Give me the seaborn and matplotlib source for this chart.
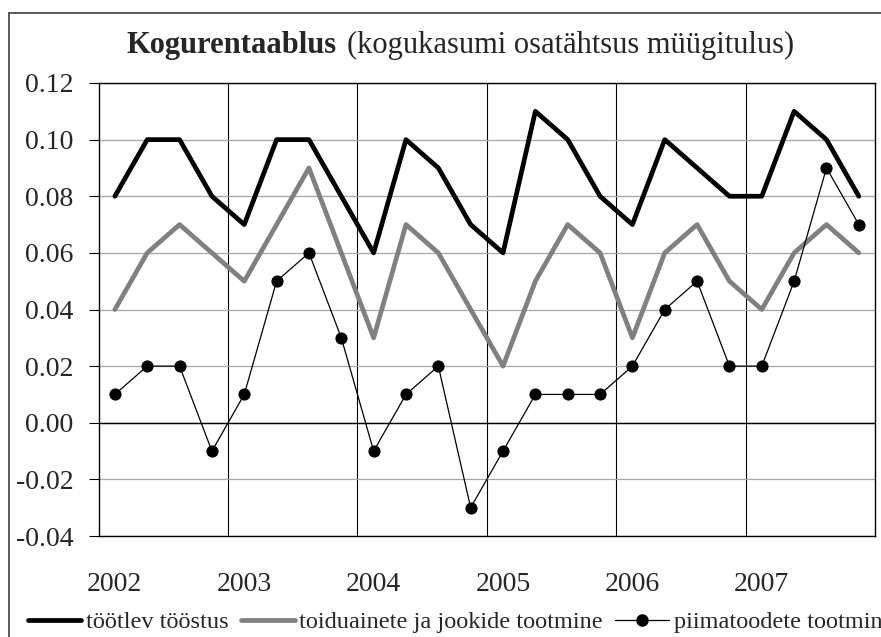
import matplotlib
matplotlib.use("Agg")
import matplotlib.pyplot as plt
import seaborn as sns
import numpy as np
import pandas as pd
from matplotlib.lines import Line2D

# ---- data ----
years = ["2002", "2003", "2004", "2005", "2006", "2007"]
quarters_per_year = 4
tootlev = [0.08, 0.10, 0.10, 0.08,
           0.07, 0.10, 0.10, 0.08,
           0.06, 0.10, 0.09, 0.07,
           0.06, 0.11, 0.10, 0.08,
           0.07, 0.10, 0.09, 0.08,
           0.08, 0.11, 0.10, 0.08]
toiduained = [0.04, 0.06, 0.07, 0.06,
              0.05, 0.07, 0.09, 0.06,
              0.03, 0.07, 0.06, 0.04,
              0.02, 0.05, 0.07, 0.06,
              0.03, 0.06, 0.07, 0.05,
              0.04, 0.06, 0.07, 0.06]
piim = [0.01, 0.02, 0.02, -0.01,
        0.01, 0.05, 0.06, 0.03,
        -0.01, 0.01, 0.02, -0.03,
        -0.01, 0.01, 0.01, 0.01,
        0.02, 0.04, 0.05, 0.02,
        0.02, 0.05, 0.09, 0.07]
series_names = ["töötlev tööstus", "toiduainete ja jookide tootmine", "piimatoodete tootmine"]
title_bold = "Kogurentaablus"
title_rest = "(kogukasumi osatähtsus müügitulus)"
yticks = [-0.04, -0.02, 0.00, 0.02, 0.04, 0.06, 0.08, 0.10, 0.12]

sns.set_theme(style="white")
plt.rcParams['font.family'] = ['Liberation Serif', 'DejaVu Serif']
plt.rcParams['legend.numpoints'] = 1

n = len(tootlev)
idx = np.arange(n)
df = pd.DataFrame({"q": np.concatenate([idx, idx, idx]),
                   "v": tootlev + toiduained + piim,
                   "s": [series_names[0]] * n + [series_names[1]] * n + [series_names[2]] * n})

W, H = 881, 637
fig = plt.figure(figsize=(W / 100, H / 100), dpi=100)
ax = fig.add_axes([98.7 / W, 1 - 536 / H, (875 - 98.7) / W, (536 - 83) / H])

sns.lineplot(data=df[df.s == series_names[0]], x="q", y="v", ax=ax, color="black",
             linewidth=3.4, label=series_names[0], zorder=3)
sns.lineplot(data=df[df.s == series_names[1]], x="q", y="v", ax=ax, color="#808080",
             linewidth=3.4, label=series_names[1], zorder=3)
sns.lineplot(data=df[df.s == series_names[2]], x="q", y="v", ax=ax, color="black",
             linewidth=0.9, marker="o", markersize=8, markeredgecolor="black",
             markerfacecolor="black", label=series_names[2], zorder=4)

ax.set_xlim(-0.5, n - 0.5)
ax.set_ylim(-0.04, 0.12)
ax.set_yticks(yticks)
ax.set_yticklabels([f"{t:.2f}" for t in yticks])
ax.set_xticks(np.arange(0, n, quarters_per_year))
ax.set_xticklabels(years)
ax.set_xticks(np.arange(quarters_per_year - 0.5, n - 1, quarters_per_year), minor=True)
ax.set_xlabel("")
ax.set_ylabel("")

ax.grid(False)
ax.yaxis.grid(True, which="major", color="#a6a6a6", linewidth=0.9)
ax.xaxis.grid(True, which="minor", color="black", linewidth=0.8)
ax.axhline(0, color="black", linewidth=1.0, zorder=2)
ax.set_axisbelow(True)

ax.tick_params(axis="y", which="major", direction="out", length=7, width=0.8,
               color="black", pad=11, labelsize=20, left=True)
ax.tick_params(axis="x", which="major", length=0, pad=26, labelsize=20)
ax.tick_params(axis="x", which="minor", length=0)
for sp in ax.spines.values():
    sp.set_color("black")
    sp.set_linewidth(1.0)

# title (bold + regular parts)
fig.text(337 / W, 1 - 53 / H, title_bold, ha="right", va="baseline",
         fontsize=22, fontweight="bold")
fig.text(347 / W, 1 - 53 / H, title_rest, ha="left", va="baseline", fontsize=22)

# legend
ax.get_legend().remove()
handles = [Line2D([], [], color="black", linewidth=3.4),
           Line2D([], [], color="#808080", linewidth=3.4),
           Line2D([], [], color="black", linewidth=0.9, marker="o", markersize=8)]
fig.legend(handles, series_names, loc="center left",
           bbox_to_anchor=(28 / W, 1 - 622 / H), ncol=3, frameon=False,
           fontsize=17.5, handlelength=2.2, handletextpad=0.2, columnspacing=0.5,
           borderpad=0, borderaxespad=0)

# outer chart frame (partly cropped in the reference)
fig.add_artist(Line2D([9 / W, 9 / W], [0, 1 - 13 / H], color="#404040", linewidth=1.2,
                      transform=fig.transFigure))
fig.add_artist(Line2D([9 / W, 1], [1 - 13 / H, 1 - 13 / H], color="#404040", linewidth=1.2,
                      transform=fig.transFigure))

fig.savefig("out.png", dpi=100)
